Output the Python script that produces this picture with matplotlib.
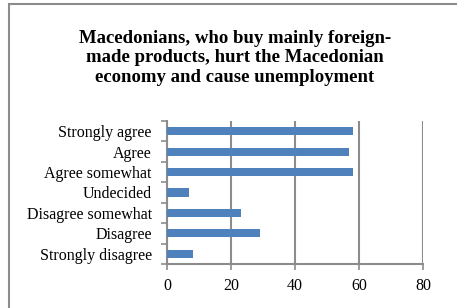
import matplotlib.pyplot as plt
from matplotlib.patches import Rectangle

categorias = ["Strongly agree", "Agree", "Agree somewhat", "Undecided",
              "Disagree somewhat", "Disagree", "Strongly disagree"]
valores = [58, 57, 58, 7, 23, 29, 8]
ticks_x = [0, 20, 40, 60, 80]

plt.rcParams["font.family"] = ["Liberation Serif", "DejaVu Serif"]

W, H = 457, 308
fig = plt.figure(figsize=(W / 100, H / 100), dpi=100)
fig.patch.set_facecolor("white")

# moldura cinza do gráfico (sai pela direita e por baixo)
fig.patches.append(Rectangle((8.5 / W, -0.1), 1.2, (H - 3.5) / H + 0.1,
                             transform=fig.transFigure, fill=False,
                             edgecolor="#8c8c8c", linewidth=1.5))

fig.text(235 / W, 1 - 58 / H,
         "Macedonians, who buy mainly foreign-\nmade products, hurt the Macedonian\neconomy and cause unemployment",
         ha="center", va="center", fontsize=13.5, fontweight="bold",
         linespacing=1.22)

ax = fig.add_axes([167 / W, 1 - 264 / H, (423 - 167) / W, (264 - 121) / H])
y = list(range(len(categorias)))[::-1]
ax.barh(y, valores, height=0.4, color="#4f81bd", zorder=3)

ax.set_xlim(0, 80)
ax.set_ylim(-0.5, len(categorias) - 0.5)
ax.set_xticks(ticks_x)
ax.set_yticks(y)
ax.set_yticklabels(categorias)
ax.set_yticks([i - 0.5 for i in range(len(categorias) + 1)], minor=True)
ax.tick_params(axis="y", which="major", length=0, pad=11, labelsize=11.5)
ax.tick_params(axis="y", which="minor", length=4, color="#8c8c8c", width=1.2)
ax.tick_params(axis="x", length=4, color="#8c8c8c", width=1.2, labelsize=11.5, pad=6)

ax.grid(axis="x", color="#8c8c8c", linewidth=1.5, zorder=0)
for lado in ["top", "right"]:
    ax.spines[lado].set_visible(False)
for lado in ["left", "bottom"]:
    ax.spines[lado].set_color("#8c8c8c")
    ax.spines[lado].set_linewidth(1.5)

fig.savefig("out.png", dpi=100)
